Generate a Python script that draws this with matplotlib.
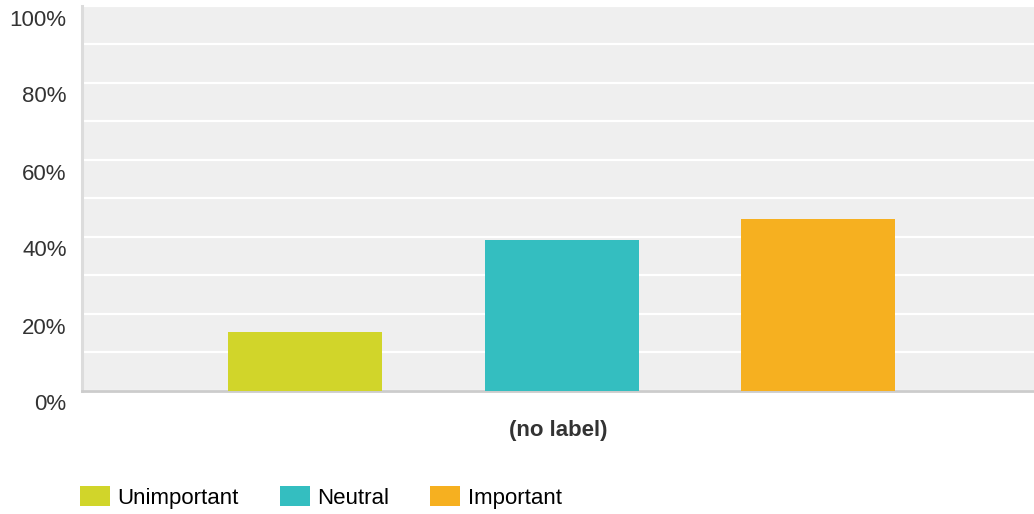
import matplotlib.pyplot as plt
from matplotlib.ticker import MultipleLocator, FuncFormatter
from matplotlib.transforms import ScaledTranslation

# ── Data ────────────────────────────────────────────────────────────────
categories = ['Unimportant', 'Neutral', 'Important']
values = [15.2, 39.1, 44.5]          # percent of responses
colors = ['#D1D52A', '#34BEC0', '#F6B020']
group_label = '(no label)'
y_ticks = [0, 20, 40, 60, 80, 100]

plt.rcParams.update({
    'font.family': ['Liberation Sans', 'DejaVu Sans'],
    'font.size': 16,
})

fig = plt.figure(figsize=(10.34, 5.14), dpi=100)
ax = fig.add_axes([82 / 1034, 1 - 390.5 / 514, 1 - 82 / 1034, 385 / 514])
ax.set_facecolor('#EFEFEF')

x = list(range(len(categories)))
ax.bar(x, values, width=0.6, color=colors, zorder=3, label=categories)

ax.set_xlim(-0.87, 2.84)
ax.set_ylim(0, 100)

# gridlines every 10%, labels every 20%
ax.yaxis.set_minor_locator(MultipleLocator(10))
ax.set_yticks(y_ticks)
ax.yaxis.set_major_formatter(FuncFormatter(lambda v, p: f'{v:.0f}%'))
ax.grid(True, axis='y', which='both', color='white', linewidth=1.6, zorder=1)
ax.tick_params(axis='y', which='both', length=0, pad=11, colors='#333333')
shift = ScaledTranslation(0, -4 / 100, fig.dpi_scale_trans)
for lab in ax.get_yticklabels():
    lab.set_verticalalignment('top')
    lab.set_transform(lab.get_transform() + shift)

ax.set_xticks([])
ax.set_xlabel(group_label, fontweight='bold', color='#333333', labelpad=21)

for side in ['top', 'right']:
    ax.spines[side].set_visible(False)
ax.spines['left'].set_color('#DCDCDC')
ax.spines['left'].set_linewidth(2.2)
ax.spines['bottom'].set_color('#CCCCCC')
ax.spines['bottom'].set_linewidth(2.0)

ax.legend(loc='lower left', bbox_to_anchor=(80 / 1034, 5 / 514),
          bbox_transform=fig.transFigure, ncol=3, frameon=False,
          handlelength=1.35, handleheight=1.0, handletextpad=0.33,
          columnspacing=1.85, borderpad=0, borderaxespad=0)

fig.savefig('out.png', dpi=100, facecolor='white')
